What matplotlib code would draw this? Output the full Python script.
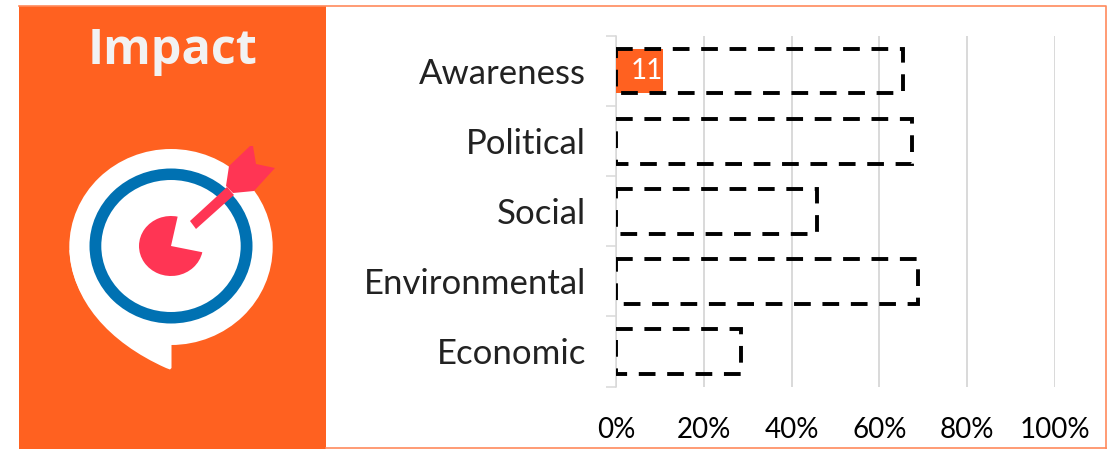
import matplotlib
matplotlib.use('Agg')
import matplotlib.pyplot as plt
from matplotlib.patches import Ellipse, PathPatch, Polygon, Rectangle, Wedge
from matplotlib.path import Path
from matplotlib.transforms import Affine2D

categories = ['Awareness', 'Political', 'Social', 'Environmental', 'Economic']
outline_values = [65.4, 67.4, 45.8, 68.8, 28.4]
filled_values = [10.6]
filled_labels = ['11']
x_ticks = [0, 20, 40, 60, 80, 100]
x_tick_labels = ['0%', '20%', '40%', '60%', '80%', '100%']

W, H = 1112, 449
orange = '#FF6120'
red = '#FF3554'
blue = '#0071B2'
grey = '#D9D9D9'

plt.rcParams['font.family'] = ['Lato', 'DejaVu Sans']

fig = plt.figure(figsize=(W / 100, H / 100), dpi=100, facecolor='white')

# background layer in pixel coords: panel, border, icon
bg = fig.add_axes([0, 0, 1, 1])
bg.set_xlim(0, W)
bg.set_ylim(H, 0)
bg.axis('off')
bg.add_patch(Rectangle((19, 6), 307, 443, color=orange, lw=0))
bg.plot([19, 1106, 1106], [6, 6, 449], color='#FF8A5C', lw=1.2)
bg.plot([326, 1106], [448, 448], color='#FF8A5C', lw=1.2)
bg.text(173, 51, 'Impact', color='#F2F2F2', fontsize=35, fontweight='bold',
        family=['Open Sans', 'DejaVu Sans'], ha='center', va='center')

# speech bubble target, the picture is a bit wider than tall
bg.add_patch(Ellipse((171, 247), 203.4, 196, color='white', lw=0))
tail = Path([(69.5, 250), (72, 300), (108, 342), (166, 368), (170, 369.5), (171.5, 368), (171.5, 345), (171.5, 300), (69.5, 250)],
            [Path.MOVETO, Path.CURVE4, Path.CURVE4, Path.CURVE4, Path.LINETO, Path.LINETO, Path.LINETO, Path.LINETO, Path.CLOSEPOLY])
bg.add_patch(PathPatch(tail, color='white', lw=0))
bg.add_patch(Ellipse((171, 246), 163, 155, color=blue, lw=0))
bg.add_patch(Ellipse((171, 246), 139.4, 132, color='white', lw=0))
# y axis is flipped here so the wedge angles run clockwise on screen
pie_tf = Affine2D().scale(1, 30 / 32).translate(171, 246) + bg.transData
bg.add_patch(Wedge((0, 0), 32, -348, -78, color=red, lw=0, transform=pie_tf))
bg.add_patch(Polygon([(190, 221), (196, 229), (234, 195), (227, 187)], color=red, lw=0))
bg.add_patch(Polygon([(229, 166), (250, 146), (253, 146), (256, 164), (275, 168), (254, 191), (233, 193), (226, 186)],
                     color=red, lw=0))

ax = fig.add_axes([616 / W, 1 - 386.5 / H, 439 / W, 350.5 / H])
ax.patch.set_alpha(0)
y_pos = list(range(len(categories)))

for y, value, label in zip(y_pos, filled_values, filled_labels):
    ax.barh(y, value, height=0.63, color=orange, zorder=2)
    ax.text(value, y, label, color='white', fontsize=20, ha='right', va='center', zorder=5)
ax.barh(y_pos, outline_values, height=0.64, facecolor='none', edgecolor='black', lw=2.8,
        linestyle=(0, (4.3, 3.0)), zorder=3)

ax.set_xlim(0, 100)
ax.set_ylim(len(categories) - 0.5, -0.5)
ax.set_xticks(x_ticks)
ax.set_xticklabels(x_tick_labels, fontsize=20)
ax.set_yticks([i - 0.5 for i in range(len(categories) + 1)])
ax.set_yticklabels([])
ax.set_yticks(y_pos, minor=True)
ax.set_yticklabels(categories, minor=True, fontsize=25, color='#222222', va='center_baseline')
ax.tick_params(axis='y', which='major', length=7.5, width=1.1, color=grey)
ax.tick_params(axis='y', which='minor', length=0, pad=21.5)
ax.tick_params(axis='x', length=0, pad=22)
ax.xaxis.grid(True, color=grey, lw=1.4, zorder=1)
ax.set_axisbelow(True)
for side in ['top', 'right', 'bottom']:
    ax.spines[side].set_visible(False)
ax.spines['left'].set_color(grey)
ax.spines['left'].set_linewidth(1.1)
ax.spines['left'].set_zorder(1.5)

fig.savefig('out.png', dpi=100)
